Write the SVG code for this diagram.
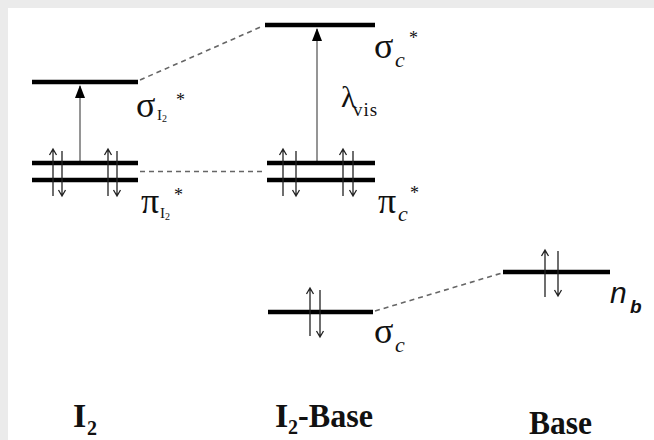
<svg xmlns="http://www.w3.org/2000/svg" width="654" height="440" viewBox="0 0 654 440">
<defs>
<style>
.lvl{stroke:#000;stroke-width:4.5;fill:none}
.dash{stroke:#666;stroke-width:1.6;stroke-dasharray:5 4;fill:none}
.exc{stroke:#8a8a8a;stroke-width:1.8;fill:none}
.spin{stroke:#222;stroke-width:1.3;fill:none}
.t{font-family:"Liberation Serif","Times New Roman",serif;fill:#111}
.big{font-size:36px}
.sub{font-size:15px}
.star{font-size:18px}
.lab{font-family:"Liberation Serif","Times New Roman",serif;font-weight:bold;fill:#111}
</style>
</defs>
<rect x="0" y="0" width="654" height="440" fill="#fff"/>
<rect x="0" y="0" width="654" height="8" fill="#ebebeb"/>
<rect x="0" y="0" width="8" height="440" fill="#ebebeb"/>

<g id="connectors">
<line class="dash" x1="140" y1="80" x2="263" y2="26"/>
<line class="dash" x1="140" y1="171.5" x2="266" y2="171.5"/>
<line class="dash" x1="375" y1="311" x2="502" y2="273"/>
<line class="exc" x1="80" y1="162" x2="80" y2="86"/>
<path d="M75,98 L80,85 L85,98 Z" fill="#000"/>
<line class="exc" x1="317" y1="162" x2="317" y2="29"/>
<path d="M312,41 L317,28 L322,41 Z" fill="#000"/>
</g>

<g id="I2-sigma-star">
<line class="lvl" x1="32" y1="82" x2="138" y2="82"/>
<text class="t big" x="136" y="117">σ</text>
<text class="t sub" x="157" y="120">I<tspan font-size="10" dy="2">2</tspan></text>
<text class="t star" x="176" y="106">*</text>
</g>

<g id="I2-pi-star">
<line class="lvl" x1="32" y1="163" x2="138" y2="163"/>
<line class="lvl" x1="32" y1="180" x2="138" y2="180"/>
<path class="spin" d="M53,196 V149 M49.5,155 L53,149 L56.5,155"/>
<path class="spin" d="M62,151 V196 M58.5,190 L62,196 L65.5,190"/>
<path class="spin" d="M108,196 V149 M104.5,155 L108,149 L111.5,155"/>
<path class="spin" d="M117,151 V196 M113.5,190 L117,196 L120.5,190"/>
<text class="t big" x="141" y="213">π</text>
<text class="t sub" x="160" y="218">I<tspan font-size="10" dy="2">2</tspan></text>
<text class="t star" x="174" y="201">*</text>
</g>

<g id="complex-sigma-star">
<line class="lvl" x1="265" y1="25" x2="375" y2="25"/>
<text class="t big" x="374" y="58">σ</text>
<text class="t" font-size="22" font-style="italic" x="395" y="67">c</text>
<text class="t star" x="409" y="44">*</text>
</g>

<g id="lambda-label">
<text class="t" font-size="30" x="341" y="107">λ</text>
<text class="t" font-size="19" x="353" y="116" letter-spacing="1">vis</text>
</g>

<g id="complex-pi-star">
<line class="lvl" x1="267" y1="163" x2="375" y2="163"/>
<line class="lvl" x1="267" y1="180" x2="375" y2="180"/>
<path class="spin" d="M283,196 V149 M279.5,155 L283,149 L286.5,155"/>
<path class="spin" d="M296,151 V196 M292.5,190 L296,196 L299.5,190"/>
<path class="spin" d="M343,196 V149 M339.5,155 L343,149 L346.5,155"/>
<path class="spin" d="M353,151 V196 M349.5,190 L353,196 L356.5,190"/>
<text class="t big" x="378" y="213">π</text>
<text class="t" font-size="22" font-style="italic" x="398" y="221">c</text>
<text class="t star" x="410" y="199">*</text>
</g>

<g id="complex-sigma">
<line class="lvl" x1="268" y1="312" x2="373" y2="312"/>
<path class="spin" d="M310,336 V288 M306.5,294 L310,288 L313.5,294"/>
<path class="spin" d="M320,290 V337 M316.5,331 L320,337 L323.5,331"/>
<text class="t big" x="374" y="343">σ</text>
<text class="t" font-size="22" font-style="italic" x="395" y="352">c</text>
</g>

<g id="base-nb">
<line class="lvl" x1="503" y1="272" x2="610" y2="272"/>
<path class="spin" d="M545,297 V250 M541.5,256 L545,250 L548.5,256"/>
<path class="spin" d="M558,251 V296 M554.5,290 L558,296 L561.5,290"/>
<text font-family="Liberation Sans, Arial, sans-serif" font-style="italic" font-size="30" fill="#111" x="610" y="303">n</text>
<text font-family="Liberation Sans, Arial, sans-serif" font-style="italic" font-weight="bold" font-size="19" fill="#111" x="630" y="313">b</text>
</g>

<g id="label-I2">
<text class="lab" font-size="34" x="73" y="427">I</text>
<text class="lab" font-size="20" x="87" y="435">2</text>
</g>
<g id="label-I2-Base">
<text class="lab" font-size="34" x="275" y="427">I</text>
<text class="lab" font-size="20" x="288" y="434">2</text>
<text class="lab" font-size="34" x="298" y="427" textLength="75" lengthAdjust="spacingAndGlyphs">-Base</text>
</g>
<g id="label-Base">
<text class="lab" font-size="34" x="529" y="434" textLength="63" lengthAdjust="spacingAndGlyphs">Base</text>
</g>
</svg>
